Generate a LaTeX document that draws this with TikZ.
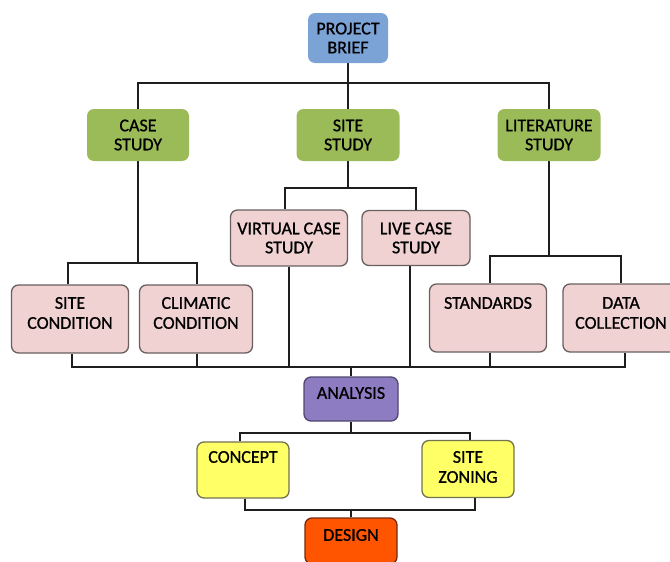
\documentclass[tikz,border=0pt]{standalone}
\usepackage{fontspec}
\setmainfont{Carlito}[FakeBold=0]
\newfontfamily\diafont{Carlito}[FakeBold=0.9]
\usetikzlibrary{backgrounds}
\definecolor{pbblue}{RGB}{124,163,214}
\definecolor{grn}{RGB}{155,187,89}
\definecolor{pnk}{RGB}{241,210,211}
\definecolor{pnkb}{RGB}{105,95,95}
\definecolor{prp}{RGB}{142,124,195}
\definecolor{prpb}{RGB}{80,70,110}
\definecolor{ylw}{RGB}{255,255,102}
\definecolor{ylwb}{RGB}{115,115,80}
\definecolor{org}{RGB}{255,85,0}
\definecolor{orgb}{RGB}{120,40,15}
\definecolor{linec}{RGB}{30,30,30}
\begin{document}
\begin{tikzpicture}[x=1pt,y=-1pt,
  base/.style={rounded corners=7pt, inner sep=0pt, align=center,
    font=\diafont\fontsize{18}{19}\selectfont, text=black},
  bluebox/.style={base, fill=pbblue},
  greenbox/.style={base, fill=grn},
  pinkbox/.style={base, fill=pnk, draw=pnkb, line width=1.3pt},
  purplebox/.style={base, fill=prp, draw=prpb, line width=1.3pt},
  yellowbox/.style={base, fill=ylw, draw=ylwb, line width=1.3pt},
  orangebox/.style={base, fill=org, draw=orgb, line width=1.3pt},
  lbl/.style={inner sep=0pt, align=center, font=\diafont\fontsize{18}{20}\selectfont, text=black},
  conn/.style={line width=2.8pt, draw=linec}]
\useasboundingbox (0,0) rectangle (670,562);

% top level
\node[bluebox, minimum width=80pt, minimum height=50pt] (pb) at (348,38) {PROJECT\\BRIEF};
\node[greenbox, minimum width=102pt, minimum height=52pt] (cs) at (138,135) {CASE\\STUDY};
\node[greenbox, minimum width=103pt, minimum height=52pt] (ss) at (348,135) {SITE\\STUDY};
\node[greenbox, minimum width=103pt, minimum height=52pt] (ls) at (549,135) {LITERATURE\\STUDY};

% second level
\node[pinkbox, minimum width=117pt, minimum height=56pt] (vcs) at (289,238) {VIRTUAL CASE\\STUDY};
\node[pinkbox, minimum width=108pt, minimum height=55pt] (lcs) at (416,238) {LIVE CASE\\STUDY};

\node[pinkbox, minimum width=117pt, minimum height=68pt] (sc) at (70,319) {};
\node[lbl] (sct) at (70,313) {SITE\\CONDITION};
\node[pinkbox, minimum width=113pt, minimum height=68pt] (cc) at (196,319) {};
\node[lbl] (cct) at (196,313) {CLIMATIC\\CONDITION};
\node[pinkbox, minimum width=117pt, minimum height=68pt] (st) at (488,318) {};
\node[lbl] (stt) at (488,303) {STANDARDS};
\node[pinkbox, minimum width=116pt, minimum height=68pt] (dc) at (621,318) {};
\node[lbl] (dct) at (621,313) {DATA\\COLLECTION};

% lower part
\node[purplebox, minimum width=94pt, minimum height=44pt] (an) at (351,399) {};
\node[lbl] (ant) at (351,393) {ANALYSIS};
\node[yellowbox, minimum width=92pt, minimum height=56pt] (co) at (243,470) {};
\node[lbl] (cot) at (243,457) {CONCEPT};
\node[yellowbox, minimum width=92pt, minimum height=57pt] (sz) at (468,469) {};
\node[lbl] (szt) at (468,467) {SITE\\ZONING};
\node[orangebox, minimum width=92pt, minimum height=46pt] (de) at (351,541) {};
\node[lbl] (det) at (351,535) {DESIGN};

% bus levels
\coordinate (b1) at (0,83);
\coordinate (b2) at (0,263);
\coordinate (b3) at (0,188);
\coordinate (b4) at (0,256);
\coordinate (b5) at (0,367);
\coordinate (b6) at (0,433);
\coordinate (b7) at (0,510);

\begin{pgfonlayer}{background}
\draw[conn] (pb.south) -- (ss.north);
\draw[conn] (cs.north) -- (cs.north |- b1) -- (ls.north |- b1) -- (ls.north);

\draw[conn] (cs.south) -- (cs.south |- b2);
\draw[conn] ([xshift=-2pt]sc.north) -- ([xshift=-2pt]sc.north |- b2) -- ([xshift=1pt]cc.north |- b2) -- ([xshift=1pt]cc.north);

\draw[conn] (ss.south) -- (ss.south |- b3);
\draw[conn] ([xshift=-4pt]vcs.north) -- ([xshift=-4pt]vcs.north |- b3) -- (lcs.north |- b3) -- (lcs.north);

\draw[conn] (ls.south) -- (ls.south |- b4);
\draw[conn] ([xshift=2pt]st.north) -- ([xshift=2pt]st.north |- b4) -- (dc.north |- b4) -- (dc.north);

\draw[conn] ([xshift=2pt]sc.south) -- ([xshift=2pt]sc.south |- b5) -- ([xshift=4pt]dc.south |- b5) -- ([xshift=4pt]dc.south);
\draw[conn] ([xshift=1pt]cc.south) -- ([xshift=1pt]cc.south |- b5);
\draw[conn] (vcs.south) -- (vcs.south |- b5);
\draw[conn] ([xshift=-6pt]lcs.south) -- ([xshift=-6pt]lcs.south |- b5);
\draw[conn] ([xshift=2pt]st.south) -- ([xshift=2pt]st.south |- b5);
\draw[conn] (an.north) -- (an.north |- b5);

\draw[conn] (an.south) -- (an.south |- b6);
\draw[conn] ([xshift=-3pt]co.north) -- ([xshift=-3pt]co.north |- b6) -- ([xshift=2pt]sz.north |- b6) -- ([xshift=2pt]sz.north);
\draw[conn] ([xshift=2pt]co.south) -- ([xshift=2pt]co.south |- b7) -- ([xshift=7pt]sz.south |- b7) -- ([xshift=7pt]sz.south);
\draw[conn] (de.north) -- (de.north |- b7);
\end{pgfonlayer}
\end{tikzpicture}
\end{document}
